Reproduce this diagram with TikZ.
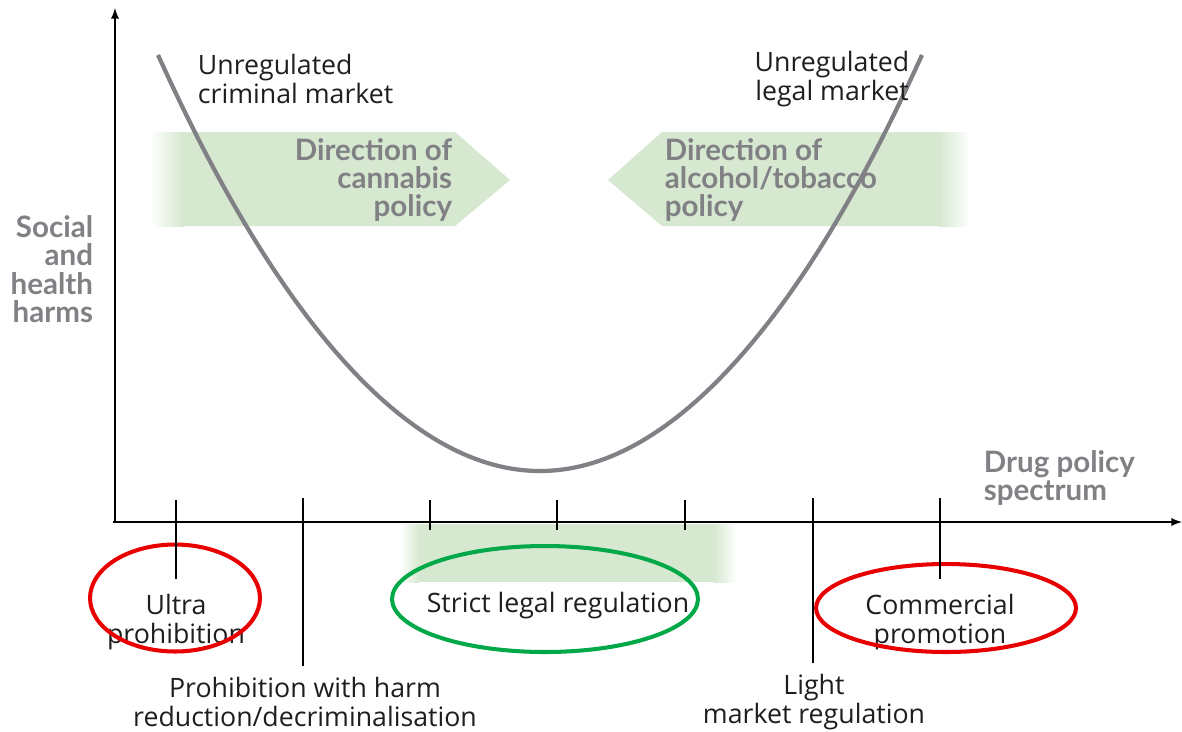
\documentclass[tikz,border=0pt]{standalone}
\usepackage{fontspec}
\setmainfont{Open Sans}
\newfontfamily\labelfont{Lato}
\usetikzlibrary{arrows}
\usetikzlibrary{positioning,shapes}

\definecolor{curvegray}{RGB}{128,128,133}
\definecolor{bandgreen}{RGB}{214,232,208}
\definecolor{ringred}{RGB}{232,0,0}
\definecolor{ringgreen}{RGB}{0,168,72}
\definecolor{textdark}{RGB}{30,30,30}

\begin{document}
\begin{tikzpicture} [x=0.02cm,y=-0.02cm,line width=1.1pt,
  every node/.style={inner sep=0pt},
  lbl/.style={font=\fontsize{15.2}{16.4}\selectfont, text=textdark, align=center},
  grey/.style={font=\labelfont\bfseries\fontsize{16.8}{16.2}\selectfont, text=curvegray},
  ring/.style={ellipse, draw, line width=2.3pt, inner sep=0pt}]

  \useasboundingbox (0,0) rectangle (1182,731);

  % green bands
  \fill[bandgreen] (183,132) -- (455,132) -- (510,180) -- (455,226) -- (183,226) -- cycle;
  \shade[left color=white, right color=bandgreen] (150,132) rectangle (184,226);
  \fill[bandgreen] (608,180) -- (662,132) -- (940,132) -- (940,226) -- (662,226) -- cycle;
  \shade[left color=bandgreen, right color=white] (939,132) rectangle (970,226);
  \fill[bandgreen] (418,524) rectangle (715,582);
  \shade[left color=white, right color=bandgreen] (400,524) rectangle (419,582);
  \shade[left color=bandgreen, right color=white] (714,524) rectangle (736,582);

  % harm curve
  \draw[curvegray, line width=2.4pt] (158,55) parabola bend (540,471) (922,55);

  % axes
  \coordinate (origin) at (113,522);
  \coordinate (ytop) at (115,8);
  \coordinate (ybot) at (115,522);
  \coordinate (xend) at (1182,522);
  \draw[-latex] (ybot) -- (ytop);
  \draw[-latex] (origin) -- (xend);

  % labels
  \node[lbl, align=left, anchor=west] (criminal) at (197,79) {Unregulated\\criminal market};
  \node[lbl] (legal) at (832,79) {Unregulated\\legal market};
  \node[grey, align=right, anchor=east] (cannabis) at (453,180) {Direction of\\cannabis\\policy};
  \node[grey, align=left, anchor=west] (alcohol) at (664,180) {Direction of\\alcohol/tobacco\\policy};
  \node[grey, align=right, anchor=east] (harms) at (94,269) {Social\\and\\health\\harms};
  \node[grey, align=left, anchor=west] (spectrum) at (983,478) {Drug policy\\spectrum};

  \node[lbl] (ultra) at (176,622) {Ultra\\prohibition};
  \node[lbl] (strict) at (558,606) {Strict legal regulation};
  \node[lbl] (commercial) at (940,622) {Commercial\\promotion};
  \node[lbl] (harmred) at (305,702) {Prohibition with harm\\reduction/decriminalisation};
  \node[lbl] (light) at (814,702) {Light\\market regulation};

  % rings
  \node[ring, ringred, minimum width=3.4cm, minimum height=2.14cm] (ultraring) at (175,598) {};
  \node[ring, ringgreen, minimum width=6.12cm, minimum height=2.12cm] (strictring) at (545,599) {};
  \node[ring, ringred, minimum width=5.2cm, minimum height=1.76cm] (commring) at (946,608) {};

  % ticks
  \coordinate (t1) at (176,500);
  \coordinate (t2) at (303,498);
  \coordinate (t6) at (813,498);
  \coordinate (t7) at (940,498);
  \draw (t1) -- (ultra.north) [shorten >=8pt];
  \draw (t2) -- (harmred.north -| t2) [shorten >=6pt];
  \draw (t6) -- (light.north -| t6) [shorten >=6pt];
  \draw (t7) -- (commercial.north) [shorten >=8pt];
  \foreach \x in {430,557,685}
    \draw (\x,500) -- (\x,530);

\end{tikzpicture}
\end{document}
